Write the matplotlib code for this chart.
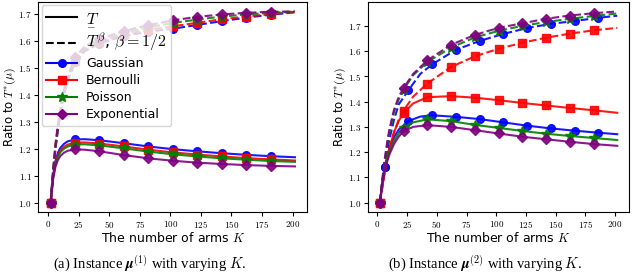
import matplotlib
matplotlib.use("Agg")
import matplotlib.pyplot as plt
from matplotlib.lines import Line2D
from matplotlib.mathtext import MathTextParser

plt.rcParams['mathtext.fontset'] = 'cm'
plt.rcParams['font.family'] = ['DejaVu Sans']
plt.rcParams['axes.formatter.use_mathtext'] = True

# ---- panel (a): instance mu^(1) ----
K_a = [2, 4, 6, 8, 10, 13, 16, 22, 30, 42, 62, 82, 102, 122, 142, 162, 182, 202]

a_gauss_low = [1.0, 1.100, 1.155, 1.185, 1.203, 1.218, 1.227, 1.234, 1.235, 1.231, 1.220, 1.208, 1.198, 1.190, 1.183, 1.177, 1.172, 1.168]
a_bern_low = [1.0, 1.095, 1.148, 1.176, 1.193, 1.207, 1.215, 1.222, 1.223, 1.219, 1.208, 1.196, 1.186, 1.178, 1.171, 1.165, 1.160, 1.156]
a_pois_low = [1.0, 1.092, 1.143, 1.170, 1.187, 1.200, 1.208, 1.215, 1.216, 1.212, 1.201, 1.189, 1.179, 1.171, 1.164, 1.159, 1.154, 1.151]
a_expo_low = [1.0, 1.085, 1.133, 1.158, 1.173, 1.185, 1.192, 1.197, 1.196, 1.190, 1.176, 1.164, 1.155, 1.148, 1.143, 1.139, 1.136, 1.134]

a_gauss_beta = [1.0, 1.105, 1.200, 1.270, 1.330, 1.400, 1.450, 1.520, 1.562, 1.590, 1.618, 1.634, 1.645, 1.659, 1.673, 1.686, 1.697, 1.706]
a_bern_beta = [1.0, 1.110, 1.205, 1.275, 1.335, 1.405, 1.455, 1.525, 1.567, 1.595, 1.624, 1.641, 1.654, 1.667, 1.680, 1.690, 1.699, 1.707]
a_pois_beta = [1.0, 1.115, 1.210, 1.280, 1.340, 1.410, 1.460, 1.530, 1.572, 1.600, 1.630, 1.650, 1.666, 1.679, 1.690, 1.698, 1.704, 1.709]
a_expo_beta = [1.0, 1.120, 1.220, 1.290, 1.350, 1.420, 1.470, 1.540, 1.580, 1.607, 1.637, 1.658, 1.676, 1.689, 1.698, 1.704, 1.708, 1.709]

# ---- panel (b): instance mu^(2) ----
K_b = [2, 4, 6, 8, 10, 14, 18, 22, 30, 42, 62, 82, 102, 122, 142, 162, 182, 202]
K_b_gauss = [2, 4, 6, 8, 10, 14, 18, 26, 36, 46, 66, 86, 106, 126, 146, 166, 186, 202]

b_gauss_low = [1.0, 1.080, 1.140, 1.180, 1.215, 1.260, 1.290, 1.323, 1.341, 1.346, 1.340, 1.331, 1.318, 1.305, 1.294, 1.285, 1.277, 1.271]
b_bern_low = [1.0, 1.060, 1.120, 1.170, 1.215, 1.280, 1.325, 1.355, 1.393, 1.418, 1.422, 1.416, 1.406, 1.395, 1.385, 1.375, 1.366, 1.356]
b_pois_low = [1.0, 1.075, 1.130, 1.170, 1.200, 1.245, 1.275, 1.297, 1.318, 1.330, 1.323, 1.308, 1.296, 1.284, 1.273, 1.264, 1.256, 1.248]
b_expo_low = [1.0, 1.070, 1.125, 1.160, 1.190, 1.233, 1.262, 1.283, 1.300, 1.307, 1.300, 1.287, 1.274, 1.261, 1.251, 1.241, 1.232, 1.225]

b_gauss_beta = [1.0, 1.080, 1.140, 1.200, 1.250, 1.330, 1.390, 1.445, 1.510, 1.548, 1.606, 1.641, 1.669, 1.692, 1.709, 1.720, 1.733, 1.741]
b_bern_beta = [1.0, 1.055, 1.115, 1.165, 1.210, 1.280, 1.330, 1.365, 1.420, 1.472, 1.538, 1.580, 1.610, 1.634, 1.654, 1.670, 1.683, 1.693]
b_pois_beta = [1.0, 1.085, 1.160, 1.225, 1.280, 1.360, 1.410, 1.448, 1.505, 1.557, 1.615, 1.655, 1.681, 1.701, 1.716, 1.729, 1.740, 1.750]
b_expo_beta = [1.0, 1.090, 1.170, 1.235, 1.290, 1.370, 1.420, 1.455, 1.510, 1.564, 1.626, 1.665, 1.693, 1.711, 1.729, 1.742, 1.751, 1.758]

names = ["Gaussian", "Bernoulli", "Poisson", "Exponential"]
colors = ["blue", "red", "green", "purple"]
markers = ["o", "s", "*", "D"]
msizes = [5.5, 5.5, 7, 5.5]


def marks(ks, start):
    # markers every 20 arms
    return [i for i, k in enumerate(ks) if (k - start) % 20 == 0 and k <= 190]


def mathok(s, fallback):
    try:
        MathTextParser("path").parse(s)
        return s
    except Exception:
        return fallback


fig = plt.figure(figsize=(6.4, 2.74), dpi=100)
ax1 = fig.add_axes([0.06, 0.226, 0.42, 0.767])
ax2 = fig.add_axes([0.575, 0.226, 0.408, 0.767])

panels = [
    (ax1, [K_a] * 4, [a_gauss_low, a_bern_low, a_pois_low, a_expo_low],
     [a_gauss_beta, a_bern_beta, a_pois_beta, a_expo_beta], [2, 2, 2, 2]),
    (ax2, [K_b_gauss, K_b, K_b, K_b], [b_gauss_low, b_bern_low, b_pois_low, b_expo_low],
     [b_gauss_beta, b_bern_beta, b_pois_beta, b_expo_beta], [6, 2, 2, 2]),
]

for ax, ks, lows, betas, starts in panels:
    for i in range(4):
        me = marks(ks[i], starts[i])
        ax.plot(ks[i], lows[i], color=colors[i], ls="-", lw=1.5, marker=markers[i],
                ms=msizes[i], markevery=me, alpha=0.9)
        ax.plot(ks[i], betas[i], color=colors[i], ls="--", lw=1.5, marker=markers[i],
                ms=msizes[i], markevery=me, alpha=0.9)
    ax.set_xticks([0, 25, 50, 75, 100, 125, 150, 175, 200])
    ax.tick_params(labelsize=6.5, length=3, pad=2)
    for lab in ax.get_xticklabels() + ax.get_yticklabels():
        lab.set_fontfamily("cmr10")
    ax.set_xlabel("The number of arms $K$", fontsize=9, labelpad=1)
    ax.set_ylabel(r"Ratio to $T^{*}(\mu)$", fontsize=8.5)
    ax.yaxis.set_label_coords(-0.075, 0.5)

handles = [Line2D([], [], color="black", ls="-", lw=1.5),
           Line2D([], [], color="black", ls="--", lw=1.5)]
labels = [mathok(r"$\underset{-}{T}$", r"$T$"), r"$T^{\beta}$, $\beta=1/2$"]
for i in range(4):
    handles.append(Line2D([], [], color=colors[i], lw=1.5, marker=markers[i], ms=msizes[i]))
    labels.append(names[i])
leg = ax1.legend(handles, labels, loc="upper left", fontsize=9, handlelength=2.5,
                 labelspacing=0.32, borderaxespad=0.25, borderpad=0.35, handletextpad=0.7)
leg.get_texts()[0].set_fontsize(11.5)
leg.get_texts()[1].set_fontsize(11.5)

mu1 = mathok(r"$\boldsymbol{\mu}^{(1)}$", r"$\mu^{(1)}$")
mu2 = mathok(r"$\boldsymbol{\mu}^{(2)}$", r"$\mu^{(2)}$")
fig.text(0.234, 0.02, "(a) Instance " + mu1 + " with varying $K$.",
         ha="center", fontsize=10.5, family="Liberation Serif")
fig.text(0.758, 0.02, "(b) Instance " + mu2 + " with varying $K$.",
         ha="center", fontsize=10.5, family="Liberation Serif")

fig.savefig("out.png", dpi=100)
